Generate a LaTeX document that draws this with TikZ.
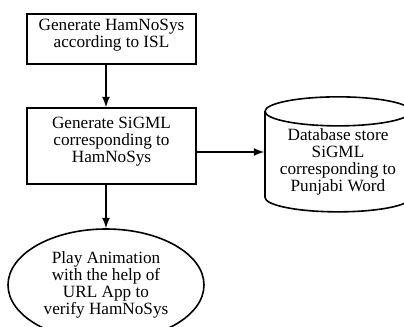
\documentclass[tikz,border=0pt]{standalone}
\usepackage{fontspec}
\setmainfont{Liberation Serif}
\usetikzlibrary{shapes.geometric}

\begin{document}
\begin{tikzpicture}[x=0.5pt,y=-0.5pt,line width=0.8pt,
    every node/.style={font=\fontsize{8.6}{8.4}\selectfont,align=center,line width=0.8pt},
    stepbox/.style={draw,rectangle,minimum width=84.5pt,inner sep=1pt},
    store/.style={draw,cylinder,shape border rotate=90,aspect=0.25,minimum width=73pt,minimum height=57.5pt,inner sep=0pt},
    endnode/.style={draw,ellipse,minimum width=98pt,minimum height=56pt,inner sep=0pt}]
        % fixe la taille de l'image
        \useasboundingbox (0,0) rectangle (404,327);

        % les etapes
        \node[stepbox,minimum height=25pt] (hns) at (111.5,39) {Generate HamNoSys\\according to ISL\\[-3pt]~};
        \node[stepbox,minimum height=38pt] (sigml) at (111.5,146) {Generate SiGML\\corresponding to\\HamNoSys\\[-2.4pt]~};
        \node[store] (db) at (338,162) {Database store\\SiGML\\corresponding to\\Punjabi Word};
        \node[endnode] (play) at (106,285) {Play Animation\\with the help of\\URL App to\\verify HamNoSys};

        % fleches
        \draw[-latex] (hns.south -| play.north) -- (sigml.north -| play.north);
        \draw[-latex] ([yshift=-3pt]sigml.east) -- ([yshift=-3pt]sigml.east -| db.west);
        \draw[-latex] (sigml.south -| play.north) -- (play.north);
\end{tikzpicture}
\end{document}
